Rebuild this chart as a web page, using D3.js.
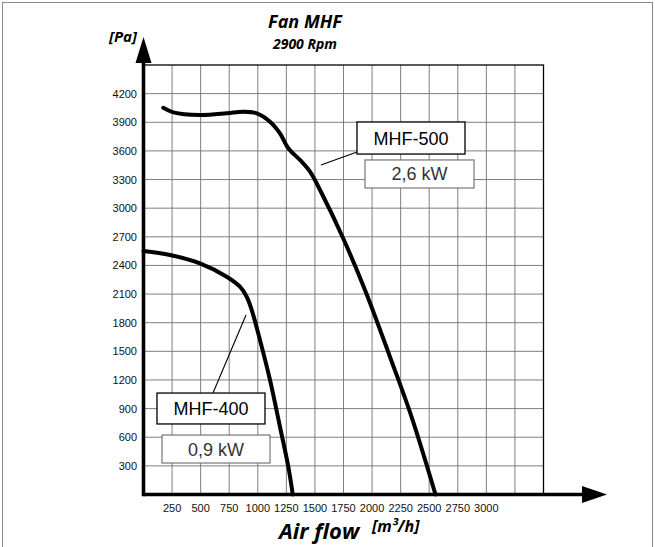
<!DOCTYPE html>
<html>
<head>
<meta charset="utf-8">
<title>Fan MHF</title>
<script src="https://cdnjs.cloudflare.com/ajax/libs/d3/7.8.5/d3.min.js"></script>
<style>
  body { margin: 0; background: #fff; }
  svg text { font-family: "Liberation Sans", Arial, sans-serif; }
  .hd { font-family: "Open Sans", sans-serif !important; font-weight: bold; font-style: italic; }
</style>
</head>
<body>
<div id="chart"></div>
<script>
// Axis ticks
var xTicks = [250, 500, 750, 1000, 1250, 1500, 1750, 2000, 2250, 2500, 2750, 3000];
var yTicks = [300, 600, 900, 1200, 1500, 1800, 2100, 2400, 2700, 3000, 3300, 3600, 3900, 4200];

// MHF-500 curve: air flow [m3/h] vs pressure [Pa]
var mhf500Flow = [173, 261, 494, 728, 873, 991, 1107, 1194, 1267, 1369, 1457, 1559, 1746, 1938, 2157, 2349, 2555];
var mhf500Pa   = [4052, 4004, 3976, 3994, 4011, 3994, 3906, 3784, 3627, 3505, 3382, 3156, 2687, 2143, 1441, 801, 0];

// MHF-400 curve
var mhf400Flow = [0, 232, 494, 728, 844, 903, 947, 1019, 1107, 1194, 1267, 1306];
var mhf400Pa   = [2551, 2509, 2422, 2282, 2177, 2072, 1933, 1619, 1200, 710, 291, 0];

var models = ["MHF-500", "MHF-400"];
var powers = ["2,6 kW", "0,9 kW"];

// where the label boxes sit, in chart units
var labelLayout = [
  { name: [1868, 2813, 3903, 3567], power: [1938, 2892, 3505, 3211], lead: [[1868, 3588], [1553, 3452]] },
  { name: [118, 1063, 1063, 739],   power: [162, 1107, 623, 330],    lead: [[608, 1063], [897, 1881]] }
];

var W = 655, H = 547;
var svg = d3.select("#chart").append("svg").attr("width", W).attr("height", H);

// outer frame
svg.append("rect").attr("x", 2.5).attr("y", 2.5).attr("width", 650).attr("height", 560)
   .attr("fill", "none").attr("stroke", "#8a8a8a").attr("stroke-width", 1);

var x = d3.scaleLinear().domain([0, 3500]).range([143.5, 543.5]);
var y = d3.scaleLinear().domain([0, 4500]).range([494.5, 65]);

// grid
var g = svg.append("g");
g.selectAll(".vg").data(d3.range(250, 3500, 250)).enter().append("line")
  .attr("x1", d => x(d)).attr("x2", d => x(d))
  .attr("y1", y(0)).attr("y2", y(4500))
  .attr("stroke", "#707070").attr("stroke-width", 0.9);
g.selectAll(".hg").data(d3.range(300, 4500, 300)).enter().append("line")
  .attr("y1", d => y(d)).attr("y2", d => y(d))
  .attr("x1", x(0)).attr("x2", x(3500))
  .attr("stroke", "#707070").attr("stroke-width", 0.9);
g.append("rect").attr("x", x(0)).attr("y", y(4500))
  .attr("width", x(3500) - x(0)).attr("height", y(0) - y(4500))
  .attr("fill", "none").attr("stroke", "#000").attr("stroke-width", 1.3);

// tick labels
svg.append("g").selectAll("text").data(yTicks).enter().append("text")
  .attr("x", 137).attr("y", d => y(d) + 4)
  .attr("text-anchor", "end").attr("font-size", 11).attr("fill", "#111")
  .text(d => d);
svg.append("g").selectAll("text").data(xTicks).enter().append("text")
  .attr("x", d => x(d)).attr("y", 512)
  .attr("text-anchor", "middle").attr("font-size", 11).attr("fill", "#111")
  .text(d => d);

// axes with arrows
svg.append("line").attr("x1", x(0)).attr("x2", 585).attr("y1", y(0)).attr("y2", y(0))
  .attr("stroke", "#000").attr("stroke-width", 3.6);
svg.append("line").attr("x1", x(0)).attr("x2", x(0)).attr("y1", y(0) + 1.8).attr("y2", 60)
  .attr("stroke", "#000").attr("stroke-width", 3.6);
svg.append("path").attr("d", `M607,${y(0)} L582,${y(0) - 8.5} L582,${y(0) + 8.5} Z`).attr("fill", "#000");
svg.append("path").attr("d", `M${x(0)},37 L${x(0) - 8},63 L${x(0) + 8},63 Z`).attr("fill", "#000");

// curves
var line = d3.line().x(d => x(d[0])).y(d => y(d[1])).curve(d3.curveCatmullRom.alpha(0.5));
[[mhf500Flow, mhf500Pa], [mhf400Flow, mhf400Pa]].forEach(function (s) {
  svg.append("path").datum(d3.zip(s[0], s[1]))
    .attr("d", line).attr("fill", "none")
    .attr("stroke", "#000").attr("stroke-width", 4).attr("stroke-linecap", "round");
});

// labels
labelLayout.forEach(function (L, i) {
  svg.append("line")
    .attr("x1", x(L.lead[0][0])).attr("y1", y(L.lead[0][1]))
    .attr("x2", x(L.lead[1][0])).attr("y2", y(L.lead[1][1]))
    .attr("stroke", "#000").attr("stroke-width", 1.1);
  var b = L.name;
  svg.append("rect").attr("x", x(b[0])).attr("y", y(b[2]))
    .attr("width", x(b[1]) - x(b[0])).attr("height", y(b[3]) - y(b[2]))
    .attr("fill", "#fff").attr("stroke", "#000").attr("stroke-width", 1.3);
  svg.append("text").attr("x", (x(b[0]) + x(b[1])) / 2).attr("y", (y(b[2]) + y(b[3])) / 2 + 6.5)
    .attr("text-anchor", "middle").attr("font-size", 18).attr("fill", "#000").text(models[i]);
  var p = L.power;
  svg.append("rect").attr("x", x(p[0])).attr("y", y(p[2]))
    .attr("width", x(p[1]) - x(p[0])).attr("height", y(p[3]) - y(p[2]))
    .attr("fill", "#fff").attr("stroke", "#6a6a6a").attr("stroke-width", 1.1);
  svg.append("text").attr("x", (x(p[0]) + x(p[1])) / 2).attr("y", (y(p[2]) + y(p[3])) / 2 + 6.5)
    .attr("text-anchor", "middle").attr("font-size", 18).attr("fill", "#333").text(powers[i]);
});

// titles
svg.append("text").attr("class", "hd").attr("x", 305).attr("y", 28)
  .attr("text-anchor", "middle").attr("font-size", 18).text("Fan MHF");
svg.append("text").attr("class", "hd").attr("x", 305).attr("y", 49)
  .attr("text-anchor", "middle").attr("font-size", 14).text("2900 Rpm");
svg.append("text").attr("class", "hd").attr("x", 137).attr("y", 42)
  .attr("text-anchor", "end").attr("font-size", 15).text("[Pa]");
svg.append("text").attr("class", "hd").attr("x", 279).attr("y", 539)
  .attr("font-size", 22).text("Air flow");
svg.append("text").attr("class", "hd").attr("x", 372).attr("y", 532)
  .attr("font-size", 16).text("[m³/h]");
</script>
</body>
</html>
